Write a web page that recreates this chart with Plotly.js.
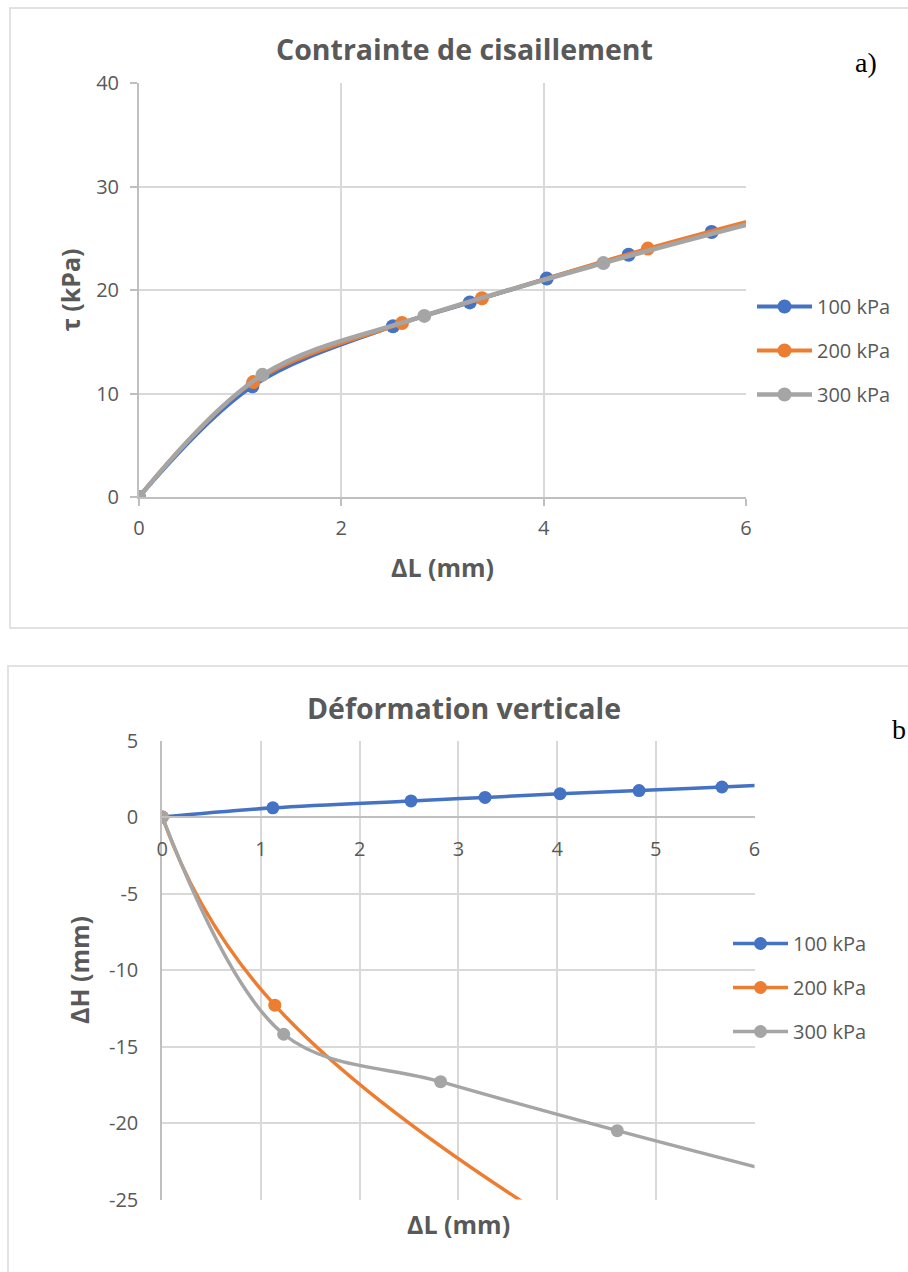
<!DOCTYPE html>
<html>
<head>
<meta charset="utf-8">
<script src="https://cdn.plot.ly/plotly-3.0.1.min.js"></script>
<style>html,body{margin:0;padding:0;background:#fff;}#chart{width:908px;height:1272px;}</style>
</head>
<body>
<div id="chart"></div>
<script>
// ---- Data: chart a) Contrainte de cisaillement ----
const seriesNames = ['100 kPa', '200 kPa', '300 kPa'];
const seriesColors = ['#4472C4', '#ED7D31', '#A5A5A5'];

const dL100a = [0, 1.12, 2.51, 3.27, 4.03, 4.84, 5.66, 6.48];
const tau100 = [0, 10.7, 16.5, 18.8, 21.1, 23.4, 25.6, 27.7];
const dL200a = [0, 1.13, 2.60, 3.39, 5.03, 6.6];
const tau200 = [0, 11.1, 16.8, 19.2, 24.0, 28.1];
const dL300a = [0, 1.22, 2.82, 4.59, 6.4];
const tau300 = [0, 11.8, 17.5, 22.6, 27.3];

// ---- Data: chart b) Déformation verticale ----
const dL100b = [0, 1.12, 2.52, 3.27, 4.03, 4.83, 5.67, 6.5];
const dH100 = [0, 0.6, 1.05, 1.28, 1.52, 1.73, 1.96, 2.2];
const dL200b = [0, 1.14, 5.03];
const dH200 = [0, -12.3, -30.6];
const dL300b = [0, 1.23, 2.82, 4.61, 6.45];
const dH300 = [0, -14.2, -17.3, -20.5, -23.6];

const xTicksA = [0, 2, 4, 6];
const yTicksA = [0, 10, 20, 30, 40];
const xTicksB = [0, 1, 2, 3, 4, 5, 6];
const yTicksB = [5, 0, -5, -10, -15, -20, -25];

const W = 908, H = 1272;
const px = v => v / W;
const py = v => 1 - v / H;

const TXT = '#595959';
const GRID = '#D9D9D9';
const AXL = '#BFBFBF';
const FONT = 'Open Sans, sans-serif';

function mk(x, y, i, xa, ya, leg, lw, ms, smooth) {
  return {
    x: x, y: y, type: 'scatter', mode: 'lines+markers',
    name: seriesNames[i], xaxis: xa, yaxis: ya, legend: leg,
    legendgroup: leg + i,
    line: {color: seriesColors[i], width: lw, shape: 'spline', smoothing: smooth || 1},
    marker: {color: seriesColors[i], size: ms},
    hoverinfo: 'x+y'
  };
}

const data = [
  mk(dL100a, tau100, 0, 'x', 'y', 'legend', 4, 14),
  mk(dL200a, tau200, 1, 'x', 'y', 'legend', 4, 14),
  mk(dL300a, tau300, 2, 'x', 'y', 'legend', 4.5, 14),
  mk(dL100b, dH100, 0, 'x2', 'y2', 'legend2', 3.5, 13),
  mk(dL200b, dH200, 1, 'x2', 'y2', 'legend2', 3.5, 13, 1.3),
  mk(dL300b, dH300, 2, 'x2', 'y2', 'legend2', 3.5, 13)
];

const tickFont = {family: FONT, size: 20, color: TXT};
const titleFont = {family: FONT, size: 25, color: TXT, weight: 700};

const layout = {
  width: W, height: H,
  margin: {l: 0, r: 0, t: 0, b: 0},
  paper_bgcolor: '#ffffff', plot_bgcolor: '#ffffff',
  showlegend: true,
  xaxis: {
    domain: [px(139), px(746)], anchor: 'y', range: [0, 6],
    tickvals: xTicksA, ticktext: xTicksA.map(String),
    showgrid: true, gridcolor: GRID, gridwidth: 2,
    showline: true, linecolor: AXL, linewidth: 2,
    ticks: 'outside', ticklen: 7, tickwidth: 2, tickcolor: AXL,
    zeroline: false, tickfont: tickFont, ticklabelstandoff: 5,
    title: {text: 'ΔL (mm)', font: titleFont, standoff: 19}
  },
  yaxis: {
    domain: [py(497), py(83)], anchor: 'x', range: [0, 40],
    tickvals: yTicksA, ticktext: yTicksA.map(String),
    showgrid: true, gridcolor: GRID, gridwidth: 2,
    showline: true, linecolor: AXL, linewidth: 2,
    ticks: 'outside', ticklen: 7, tickwidth: 2, tickcolor: AXL,
    zeroline: false, tickfont: tickFont, ticklabelstandoff: 7,
    title: {text: 'τ (kPa)', font: titleFont, standoff: 8}
  },
  xaxis2: {
    domain: [px(162.3), px(754.5)], anchor: 'free', position: py(817),
    range: [0, 6],
    tickvals: xTicksB, ticktext: xTicksB.map(String),
    showgrid: true, gridcolor: GRID, gridwidth: 2,
    showline: true, linecolor: AXL, linewidth: 2,
    ticks: '', zeroline: false, tickfont: tickFont, ticklabelstandoff: 14
  },
  yaxis2: {
    domain: [py(1199.5), py(740.5)], anchor: 'x2', range: [-25, 5],
    tickvals: yTicksB, ticktext: yTicksB.map(String),
    showgrid: true, gridcolor: GRID, gridwidth: 2,
    showline: true, linecolor: AXL, linewidth: 2,
    ticks: '', zeroline: false, tickfont: tickFont, ticklabelstandoff: 18,
    title: {text: 'ΔH (mm)', font: titleFont, standoff: 12}
  },
  legend: {
    x: px(752), y: py(287), xanchor: 'left', yanchor: 'top',
    font: {family: FONT, size: 20, color: TXT},
    bgcolor: 'rgba(0,0,0,0)', itemwidth: 55,
    traceorder: 'grouped', tracegroupgap: 15
  },
  legend2: {
    x: px(728), y: py(924), xanchor: 'left', yanchor: 'top',
    font: {family: FONT, size: 20, color: TXT},
    bgcolor: 'rgba(0,0,0,0)', itemwidth: 55,
    traceorder: 'grouped', tracegroupgap: 15
  },
  shapes: [
    {type: 'rect', xref: 'paper', yref: 'paper', x0: px(10), x1: px(930), y0: py(628), y1: py(8),
     line: {color: GRID, width: 1.5}, fillcolor: 'rgba(0,0,0,0)', layer: 'below'},
    {type: 'rect', xref: 'paper', yref: 'paper', x0: px(8), x1: px(930), y0: py(1290), y1: py(666),
     line: {color: GRID, width: 1.5}, fillcolor: 'rgba(0,0,0,0)', layer: 'below'}
  ],
  annotations: [
    {text: 'Contrainte de cisaillement', xref: 'paper', yref: 'paper', x: px(464), y: py(49),
     xanchor: 'center', yanchor: 'middle', showarrow: false,
     font: {family: FONT, size: 28.5, color: TXT, weight: 700}},
    {text: 'Déformation verticale', xref: 'paper', yref: 'paper', x: px(464.5), y: py(708),
     xanchor: 'center', yanchor: 'middle', showarrow: false,
     font: {family: FONT, size: 28.5, color: TXT, weight: 700}},
    {text: 'a)', xref: 'paper', yref: 'paper', x: px(853), y: py(62),
     xanchor: 'left', yanchor: 'middle', showarrow: false,
     font: {family: 'Liberation Serif, serif', size: 28, color: '#000000'}},
    {text: 'b', xref: 'paper', yref: 'paper', x: px(890), y: py(729),
     xanchor: 'left', yanchor: 'middle', showarrow: false,
     font: {family: 'Liberation Serif, serif', size: 28, color: '#000000'}},
    {text: 'ΔL (mm)', xref: 'paper', yref: 'paper', x: px(458.4), y: py(1223.5),
     xanchor: 'center', yanchor: 'middle', showarrow: false,
     font: titleFont}
  ]
};

Plotly.newPlot('chart', data, layout, {staticPlot: true, displayModeBar: false});
</script>
</body>
</html>
